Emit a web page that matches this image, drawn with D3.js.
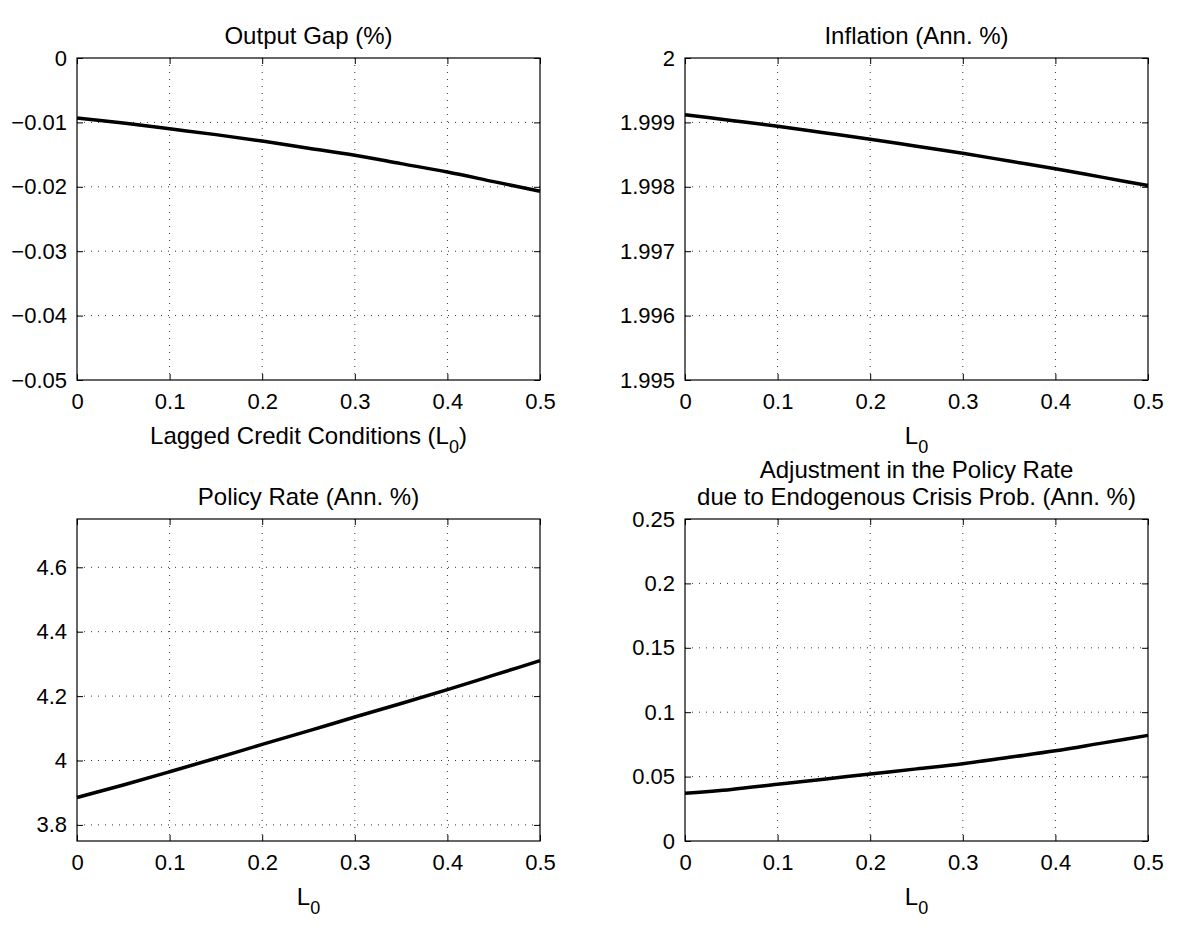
<!DOCTYPE html>
<html>
<head>
<meta charset="utf-8">
<script src="https://cdn.jsdelivr.net/npm/d3@7"></script>
<style>
  body { margin: 0; background: #fff; }
  text { font-family: "Liberation Sans", Arial, sans-serif; fill: #000; }
  .tick text { font-size: 22px; }
</style>
</head>
<body>
<svg id="chart" width="1187" height="946"></svg>
<script>
var xs = [0, 0.05, 0.1, 0.15, 0.2, 0.25, 0.3, 0.35, 0.4, 0.45, 0.5];
var xTicks = [0, 0.1, 0.2, 0.3, 0.4, 0.5];

var outputGap = [-0.0093, -0.0101, -0.0110, -0.0119, -0.0129, -0.0140, -0.0151, -0.0164, -0.0177, -0.0192, -0.0207];
var inflation = [1.99912, 1.99903, 1.99894, 1.99884, 1.99874, 1.99863, 1.99852, 1.99840, 1.99828, 1.99815, 1.99802];
var policyRate = [3.885, 3.924, 3.965, 4.007, 4.050, 4.092, 4.135, 4.177, 4.220, 4.265, 4.310];
var adjustment = [0.037, 0.040, 0.044, 0.048, 0.052, 0.056, 0.060, 0.065, 0.070, 0.076, 0.082];

var panels = [
  { title: ["Output Gap (%)"], xlabel: "Lagged Credit Conditions (L", values: outputGap,
    domain: [-0.05, 0], ticks: [-0.05, -0.04, -0.03, -0.02, -0.01, 0], fmt: function(d) { return d === 0 ? "0" : "\u2212" + String(Math.abs(d)); },
    x0: 77, y0: 58 },
  { title: ["Inflation (Ann. %)"], xlabel: "L", values: inflation,
    domain: [1.995, 2], ticks: [1.995, 1.996, 1.997, 1.998, 1.999, 2], fmt: function(d) { return d3.format(".3~f")(d); },
    x0: 685, y0: 58 },
  { title: ["Policy Rate (Ann. %)"], xlabel: "L", values: policyRate,
    domain: [3.75, 4.75], ticks: [3.8, 4, 4.2, 4.4, 4.6], fmt: function(d) { return d3.format("~g")(d); },
    x0: 77, y0: 519 },
  { title: ["Adjustment in the Policy Rate", "due to Endogenous Crisis Prob. (Ann. %)"], xlabel: "L", values: adjustment,
    domain: [0, 0.25], ticks: [0, 0.05, 0.1, 0.15, 0.2, 0.25], fmt: function(d) { return d3.format("~g")(d); },
    x0: 685, y0: 519 }
];

var W = 463, H = 322;
var svg = d3.select("#chart");

panels.forEach(function(p) {
  var g = svg.append("g").attr("transform", "translate(" + p.x0 + "," + p.y0 + ")");
  var x = d3.scaleLinear().domain([0, 0.5]).range([0, W]);
  var y = d3.scaleLinear().domain(p.domain).range([H, 0]);

  // grid
  g.selectAll(".gx").data(xTicks.slice(1, -1)).enter().append("line")
    .attr("x1", x).attr("x2", x).attr("y1", 0).attr("y2", H)
    .attr("stroke", "#000").attr("stroke-width", 0.8).attr("stroke-dasharray", "1,6");
  g.selectAll(".gy").data(p.ticks.filter(function(t) { return t > p.domain[0] && t < p.domain[1]; })).enter().append("line")
    .attr("y1", y).attr("y2", y).attr("x1", 0).attr("x2", W)
    .attr("stroke", "#000").attr("stroke-width", 0.8).attr("stroke-dasharray", "1,6");

  // inward ticks on all sides
  var xb = g.append("g").attr("transform", "translate(0," + H + ")")
    .call(d3.axisBottom(x).tickValues(xTicks).tickSize(-6).tickPadding(13).tickFormat(d3.format("~g")));
  var xt = g.append("g").call(d3.axisTop(x).tickValues(xTicks).tickSize(-6).tickFormat(""));
  var yl = g.append("g").call(d3.axisLeft(y).tickValues(p.ticks).tickSize(-6).tickPadding(10).tickFormat(p.fmt));
  var yr = g.append("g").attr("transform", "translate(" + W + ",0)")
    .call(d3.axisRight(y).tickValues(p.ticks).tickSize(-6).tickFormat(""));
  [xb, xt, yl, yr].forEach(function(a) {
    a.select(".domain").remove();
    a.selectAll("line").attr("stroke", "#000");
    a.selectAll("text").attr("fill", "#000");
  });

  g.append("rect").attr("width", W).attr("height", H)
    .attr("fill", "none").attr("stroke", "#000").attr("stroke-width", 1.2);

  var line = d3.line().curve(d3.curveMonotoneX)
    .x(function(d, i) { return x(xs[i]); }).y(function(d) { return y(d); });
  g.append("path").datum(p.values).attr("d", line)
    .attr("fill", "none").attr("stroke", "#000").attr("stroke-width", 3.5);

  // title
  p.title.forEach(function(t, i) {
    g.append("text").attr("x", W / 2).attr("y", -14 - (p.title.length - 1 - i) * 27)
      .attr("text-anchor", "middle").style("font-size", "24px").text(t);
  });

  // x label with subscript
  var xl = g.append("text").attr("x", W / 2).attr("y", H + 64)
    .attr("text-anchor", "middle").style("font-size", "24px");
  xl.append("tspan").text(p.xlabel);
  xl.append("tspan").attr("dy", 9).style("font-size", "18px").text("0");
  if (p.xlabel.length > 1) xl.append("tspan").attr("dy", -9).text(")");
});
</script>
</body>
</html>
